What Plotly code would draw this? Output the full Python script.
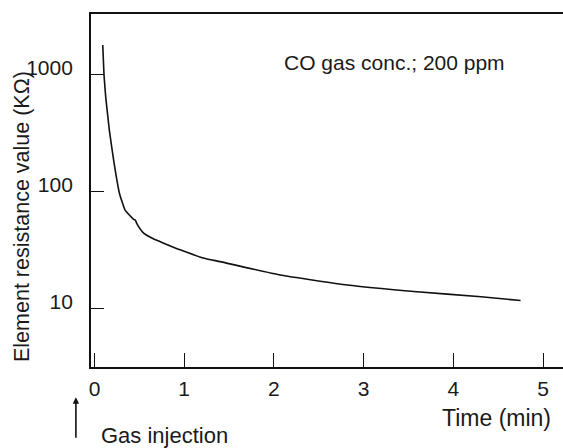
import plotly.graph_objects as go

# Data (time in minutes, resistance in kOhm)
time_min = [0.092, 0.106, 0.125, 0.165, 0.218, 0.277, 0.341, 0.420, 0.440, 0.455, 0.475,
            0.542, 0.650, 0.765, 0.955, 1.21, 1.40, 2.07, 2.82, 3.56, 4.31, 4.75]
resistance = [1800, 1000, 650, 340, 177, 98, 70, 60, 58, 57.5, 53,
              45, 40, 36.7, 32, 27.3, 25.4, 19.5, 16.0, 14.1, 12.7, 11.8]

x_ticks = [0, 1, 2, 3, 4, 5]
x_tick_labels = ["0", "1", "2", "3", "4", "5"]
y_ticks = [10, 100, 1000]
y_tick_labels = ["10", "100", "1000"]

FONT = "Liberation Sans, Arial, sans-serif"

fig = go.Figure()
fig.add_trace(go.Scatter(
    x=time_min, y=resistance, mode="lines",
    line=dict(color="#111111", width=1.6, shape="spline", smoothing=0.4),
    showlegend=False, hoverinfo="skip",
))

fig.update_layout(
    width=563, height=448,
    margin=dict(l=91, r=0, t=14, b=81),
    paper_bgcolor="white", plot_bgcolor="white",
    font=dict(family=FONT, color="#1a1a1a", size=21),
    xaxis=dict(
        range=[-0.039, 5.223], tickvals=x_ticks, ticktext=x_tick_labels,
        ticks="inside", ticklen=14, tickwidth=1.4, tickcolor="#111111",
        showline=True, linecolor="#111111", linewidth=1.8, mirror=True,
        showgrid=False, zeroline=False,
        tickfont=dict(size=21, family=FONT, color="#1a1a1a"),
        ticklabelstandoff=2,
    ),
    yaxis=dict(
        type="log", range=[0.504, 3.521], tickvals=y_ticks, ticktext=y_tick_labels,
        ticks="inside", ticklen=13, tickwidth=1.4, tickcolor="#111111",
        showline=True, linecolor="#111111", linewidth=1.8, mirror=False,
        showgrid=False, zeroline=False,
        tickfont=dict(size=21, family=FONT, color="#1a1a1a"),
        ticklabelstandoff=12, ticklabelshift=-7,
    ),
    annotations=[
        dict(text="Element resistance value (KΩ)", xref="paper", yref="paper",
             x=(22 - 91) / 472, y=(367 - 217) / 353, xanchor="center", yanchor="middle",
             textangle=-90, showarrow=False,
             font=dict(size=21.5, family=FONT, color="#1a1a1a")),
        dict(text="CO gas conc.; 200 ppm", xref="paper", yref="paper",
             x=0.4055, y=0.862, xanchor="left", yanchor="middle", showarrow=False,
             font=dict(size=21, family=FONT, color="#1a1a1a")),
        dict(text="Time (min)", xref="paper", yref="paper",
             x=0.979, y=-0.145, xanchor="right", yanchor="middle", showarrow=False,
             font=dict(size=23, family=FONT, color="#1a1a1a")),
        dict(text="Gas injection", xref="paper", yref="paper",
             x=0.017, y=(367 - 435) / 353, xanchor="left", yanchor="middle", showarrow=False,
             font=dict(size=22, family=FONT, color="#1a1a1a")),
        dict(text="", xref="paper", yref="paper",
             x=-0.032, y=-0.086, showarrow=True, ax=0, ay=42,
             arrowhead=2, arrowsize=0.8, arrowwidth=1.6, arrowcolor="#111111"),
    ],
)

fig.write_html("out.html")
